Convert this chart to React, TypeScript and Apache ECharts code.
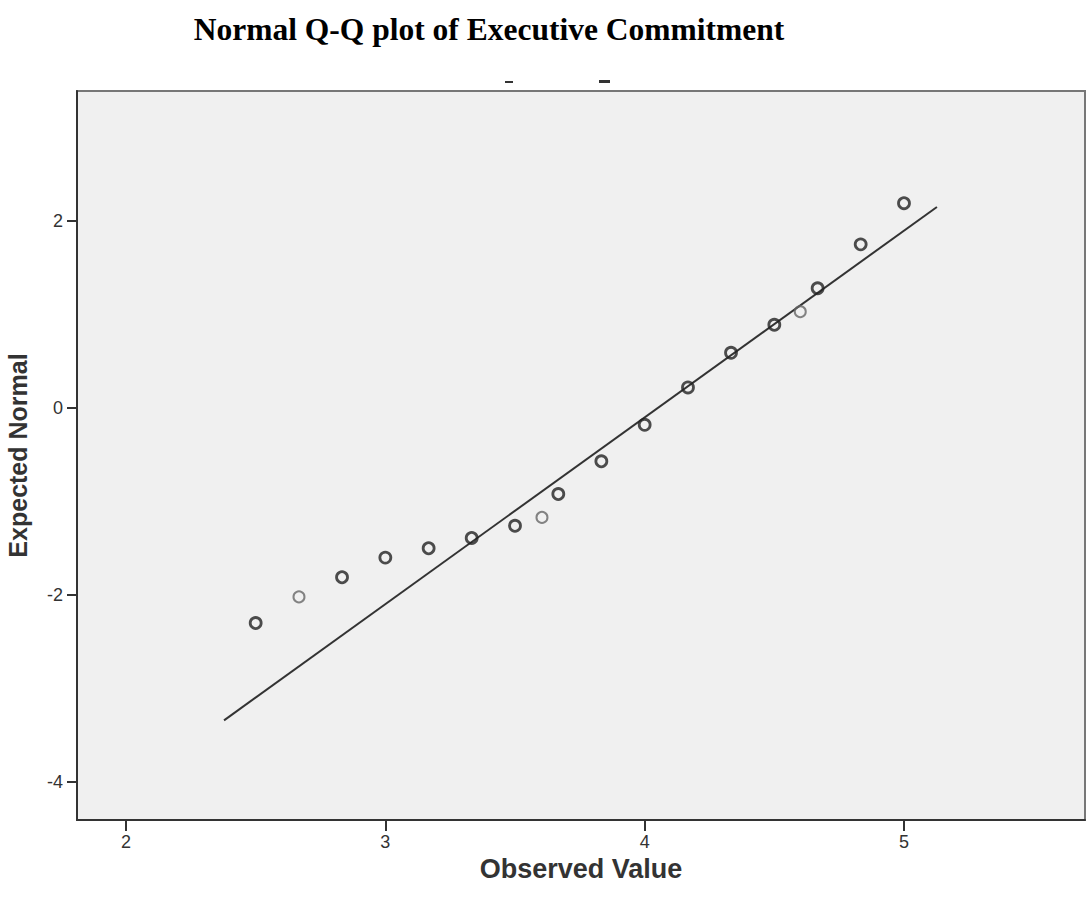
import React, { useEffect, useRef } from "react";
import * as echarts from "echarts";

const observedDark: number[] = [2.5, 2.833, 3.0, 3.167, 3.333, 3.5, 3.667, 3.833, 4.0, 4.167, 4.333, 4.5, 4.667, 4.833, 5.0];
const expectedDark: number[] = [-2.3, -1.81, -1.6, -1.5, -1.39, -1.26, -0.92, -0.57, -0.18, 0.22, 0.59, 0.89, 1.28, 1.75, 2.19];
const observedLight: number[] = [2.667, 3.604, 4.6];
const expectedLight: number[] = [-2.02, -1.17, 1.03];
const lineX: number[] = [2.378, 5.127];
const lineY: number[] = [-3.34, 2.15];
const xTicks: number[] = [2, 3, 4, 5];
const yTicks: number[] = [-4, -2, 0, 2];

export default function App() {
  const ref = useRef<HTMLDivElement>(null);
  useEffect(() => {
    if (!ref.current) return;
    const chart = echarts.init(ref.current, null, { renderer: "svg" });
    const zip = (a: number[], b: number[]) => a.map((v, i) => [v, b[i]]);
    chart.setOption({
      animation: false,
      backgroundColor: "#ffffff",
      title: {
        text: "Normal Q-Q plot of Executive Commitment",
        left: 484,
        textAlign: "center",
        top: 8,
        textStyle: { fontFamily: "Liberation Serif", fontWeight: "bold", fontSize: 31.5, color: "#000" },
      },
      grid: {
        left: 77, top: 91, right: 1, bottom: 81,
        outerBoundsMode: "none", containLabel: false,
        show: true, backgroundColor: "#f0f0f0", borderColor: "#777", borderWidth: 2,
      },
      xAxis: {
        type: "value",
        min: 1.811,
        max: 5.698,
        name: "Observed Value",
        nameLocation: "middle",
        nameGap: 21,
        nameTextStyle: { fontFamily: "Liberation Sans", fontWeight: "bold", fontSize: 27, color: "#333" },
        splitLine: { show: false },
        axisLine: { show: true, onZero: false, lineStyle: { color: "#333", width: 2 } },
        axisTick: { show: true, length: 11, lineStyle: { color: "#333", width: 2 }, customValues: xTicks },
        axisLabel: { fontFamily: "Liberation Sans", fontSize: 18, color: "#333", margin: 13, customValues: xTicks },
      },
      yAxis: {
        type: "value",
        min: -4.406,
        max: 3.39,
        name: "Expected Normal",
        nameLocation: "middle",
        nameGap: 47,
        nameTextStyle: { fontFamily: "Liberation Sans", fontWeight: "bold", fontSize: 25, color: "#333" },
        splitLine: { show: false },
        axisLine: { show: true, onZero: false, lineStyle: { color: "#333", width: 2 } },
        axisTick: { show: true, length: 10, lineStyle: { color: "#333", width: 2 }, customValues: yTicks },
        axisLabel: { fontFamily: "Liberation Sans", fontSize: 18, color: "#333", margin: 14, customValues: yTicks },
      },
      graphic: [
        { type: "rect", shape: { x: 505, y: 81, width: 8, height: 2 }, style: { fill: "#333" } },
        { type: "rect", shape: { x: 599, y: 80, width: 11, height: 3 }, style: { fill: "#333" } },
      ],
      series: [
        {
          type: "line",
          data: zip(lineX, lineY),
          symbol: "none",
          lineStyle: { color: "#333", width: 2 },
          z: 2,
        },
        {
          type: "scatter",
          data: zip(observedLight, expectedLight),
          symbol: "circle",
          symbolSize: 11,
          itemStyle: { color: "transparent", borderColor: "#666", borderWidth: 2 },
          z: 3,
        },
        {
          type: "scatter",
          data: zip(observedDark, expectedDark),
          symbol: "circle",
          symbolSize: 11,
          itemStyle: { color: "transparent", borderColor: "#222", borderWidth: 2.8 },
          z: 4,
        },
      ],
    });
    return () => chart.dispose();
  }, []);
  return <div ref={ref} style={{ position: "fixed", left: 0, top: 0, width: 1086, height: 901 }} />;
}
